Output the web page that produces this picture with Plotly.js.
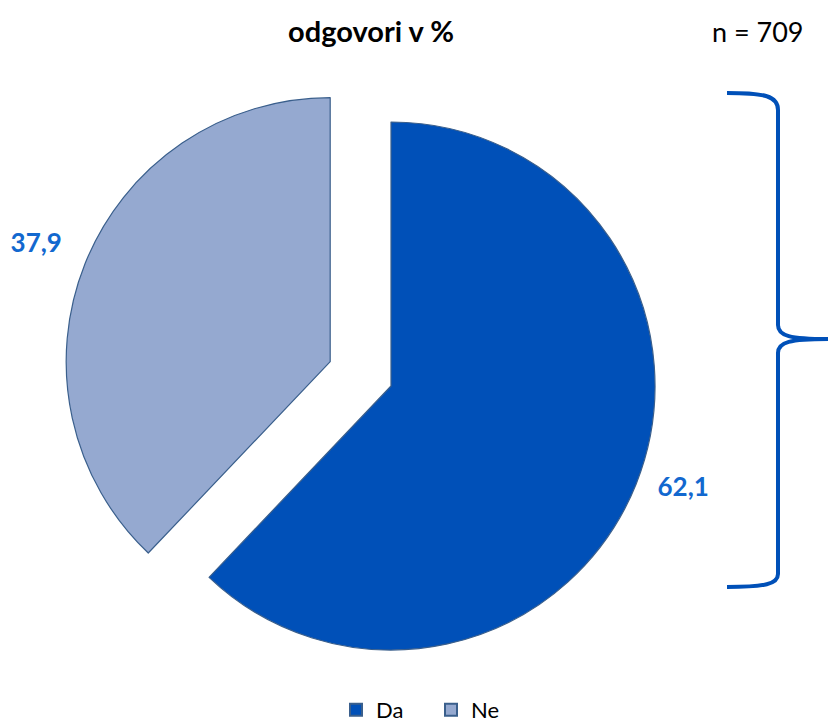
<!DOCTYPE html>
<html>
<head>
<meta charset="utf-8">
<script src="https://cdn.plot.ly/plotly-3.0.1.min.js"></script>
<style>html,body{margin:0;padding:0;background:#fff;}#chart{width:829px;height:723px;}</style>
</head>
<body>
<div id="chart"></div>
<script>
// Data
var categories = ['Da', 'Ne'];
var values = [62.1, 37.9];
var sliceColors = ['#0050B8', '#95A9D0'];
var pulls = [0, 0.248];
var titleText = 'odgovori v %';
var nText = 'n = 709';

var W = 829, H = 723;
function px(x) { return x / W; }
function py(y) { return 1 - y / H; }

var FONT = 'Lato, "Open Sans", sans-serif';
var NB = '\u00A0';

var trace = {
  type: 'pie',
  labels: categories,
  values: values,
  sort: false,
  direction: 'clockwise',
  rotation: 0,
  pull: pulls,
  marker: { colors: sliceColors, line: { color: '#3A5F8C', width: 1.2 } },
  textposition: 'outside',
  texttemplate: [NB + NB + '<b>%{value:.1f}</b>', '<b>%{value:.1f}</b>' + NB + '<br>' + NB],
  outsidetextfont: { family: FONT, size: 26, color: '#1268CF' },
  hoverinfo: 'label+value',
  domain: { x: [px(61.5), px(720.5)], y: [py(716), py(56)] }
};

var layout = {
  width: W, height: H,
  margin: { l: 0, r: 0, t: 0, b: 0, autoexpand: false },
  paper_bgcolor: '#ffffff',
  separators: ', ',
  font: { family: FONT, color: '#000000' },
  title: {
    text: '<b>' + titleText + '</b>',
    x: px(371), xanchor: 'center',
    y: py(32), yanchor: 'middle',
    font: { family: FONT, size: 29, color: '#000000' }
  },
  showlegend: true,
  legend: {
    orientation: 'h',
    x: px(431), xanchor: 'center',
    y: py(710), yanchor: 'middle',
    font: { family: FONT, size: 22, color: '#000000' },
    entrywidth: 50, entrywidthmode: 'pixels',
    itemsizing: 'constant'
  },
  annotations: [{
    text: nText, showarrow: false,
    xref: 'paper', yref: 'paper',
    x: px(758), y: py(32), xanchor: 'center', yanchor: 'middle',
    font: { family: FONT, size: 27, color: '#000000' }
  }],
  shapes: [{
    type: 'path', xref: 'paper', yref: 'paper',
    path: (function () {
      var pts = [
        ['M', 727, 93],
        ['C', 765, 93, 778, 96, 778, 110],
        ['L', 778, 325],
        ['C', 778, 336, 790, 339, 828, 339],
        ['C', 790, 339, 778, 342, 778, 353],
        ['L', 778, 574],
        ['C', 778, 584, 765, 587, 727, 587]
      ];
      return pts.map(function (p) {
        var s = p[0];
        var c = [];
        for (var i = 1; i < p.length; i += 2) c.push(px(p[i]).toFixed(5) + ',' + py(p[i + 1]).toFixed(5));
        return s + c.join(' ');
      }).join(' ');
    })(),
    line: { color: '#0050B8', width: 4 },
    fillcolor: 'rgba(0,0,0,0)'
  }]
};

Plotly.newPlot('chart', [trace], layout, { displayModeBar: false, staticPlot: true });
</script>
</body>
</html>
